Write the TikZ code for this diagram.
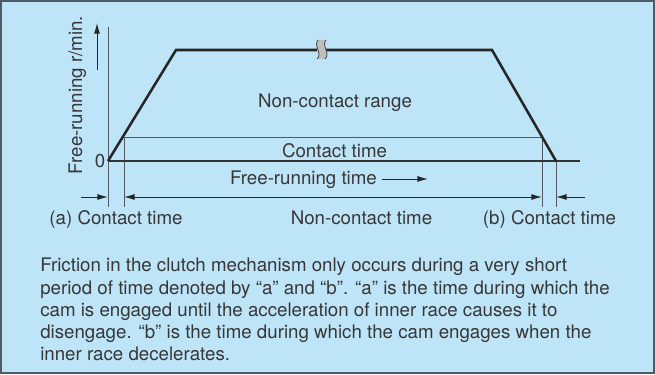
\documentclass[tikz,border=0pt]{standalone}
\usepackage{fontspec}
\setmainfont{TeX Gyre Heros}
\usetikzlibrary{arrows.meta}
\definecolor{panelblue}{RGB}{190,228,248}
\definecolor{inkgray}{RGB}{55,55,55}
\definecolor{rulegray}{RGB}{80,90,100}
\tikzset{
  dimtip/.tip={Latex[length=7.5pt,width=4.2pt]},
  panel/.style={fill=panelblue, draw=rulegray, line width=0.9pt},
  speedline/.style={line width=1.8pt, draw=black!85, line join=miter},
  guide/.style={line width=0.7pt, draw=rulegray},
  zeroline/.style={line width=0.8pt, draw=black!80},
  dimarrow/.style={line width=0.7pt, draw=black!85, -{dimtip}},
  breakmark/.style={draw=black!70, line width=0.6pt},
  lbl/.style={font=\fontsize{13.3}{16}\selectfont, text=inkgray, inner sep=0pt, anchor=base},
}

\begin{document}
\begin{tikzpicture}[x=0.025cm, y=-0.025cm]
\useasboundingbox (0,0) rectangle (655,374);
\draw[panel] (1,1) rectangle (654,373);
% key points of the speed curve
\coordinate (o) at (108,161);
\coordinate (up) at (176,50);
\coordinate (cutl) at (317,50);
\coordinate (cutr) at (326,50);
\coordinate (down) at (492,50);
\coordinate (stop) at (556,161);
\coordinate (ca) at (124,137);
\coordinate (cb) at (542,137);
\coordinate (axtop) at (108,27);
\coordinate (axbot) at (108,207);
\coordinate (zend) at (580,161);
% guides
\draw[guide] (axtop) -- (axbot);
\draw[guide] (ca) -- (cb);
\draw[guide] (ca) -- (ca |- axbot);
\draw[guide] (cb) -- (cb |- axbot);
\draw[guide] (stop) -- (stop |- axbot);
\draw[zeroline] (o) -- (zend);
% curve
\draw[speedline] (o) -- (up) -- (cutl);
\draw[speedline] (cutr) -- (down) -- (stop);
\fill[black!25] (318,40) .. controls (313,45) and (323,54) .. (317,59)
  -- (325,59) .. controls (331,54) and (321,45) .. (326,40) -- cycle;
\draw[breakmark] (318,40) .. controls (313,45) and (323,54) .. (317,59);
\draw[breakmark] (326,40) .. controls (321,45) and (331,54) .. (325,59);
% axis label
\coordinate (ytail) at (97,70);
\coordinate (yhead) at (97,23);
\draw[dimarrow] (ytail) -- (yhead);
\node[lbl, rotate=90] (ylabel) at (82,95) {Free-running r/min.};
\node[lbl] (zero) at (100,167) {0};
% inner labels
\node[lbl] (range) at (335,107) {Non-contact range};
\node[lbl] (contact) at (334.5,157) {Contact time};
\node[lbl] (free) at (303.5,184) {Free-running time};
\coordinate (ftail) at (382,179);
\coordinate (fhead) at (428,179);
\draw[dimarrow] (ftail) -- (fhead);
% dimension arrows
\coordinate (al) at (81,197);
\coordinate (br) at (585,197);
\draw[dimarrow] (al) -- (o |- al);
\draw[dimarrow, {dimtip}-{dimtip}] (ca |- al) -- (cb |- al);
\draw[dimarrow] (br) -- (stop |- br);
\node[lbl] (acon) at (116,224) {(a) Contact time};
\node[lbl] (noncon) at (361.5,224) {Non-contact time};
\node[lbl] (bcon) at (549.5,224) {(b) Contact time};
% note
\node[lbl, anchor=north west, align=left, font=\fontsize{13.3}{15.8}\selectfont] (note) at (40,258)
  {Friction in the clutch mechanism only occurs during a very short\\
   period of time denoted by “a” and “b”. “a” is the time during which the\\
   cam is engaged until the acceleration of inner race causes it to\\
   disengage. “b” is the time during which the cam engages when the\\
   inner race decelerates.};
\end{tikzpicture}
\end{document}
